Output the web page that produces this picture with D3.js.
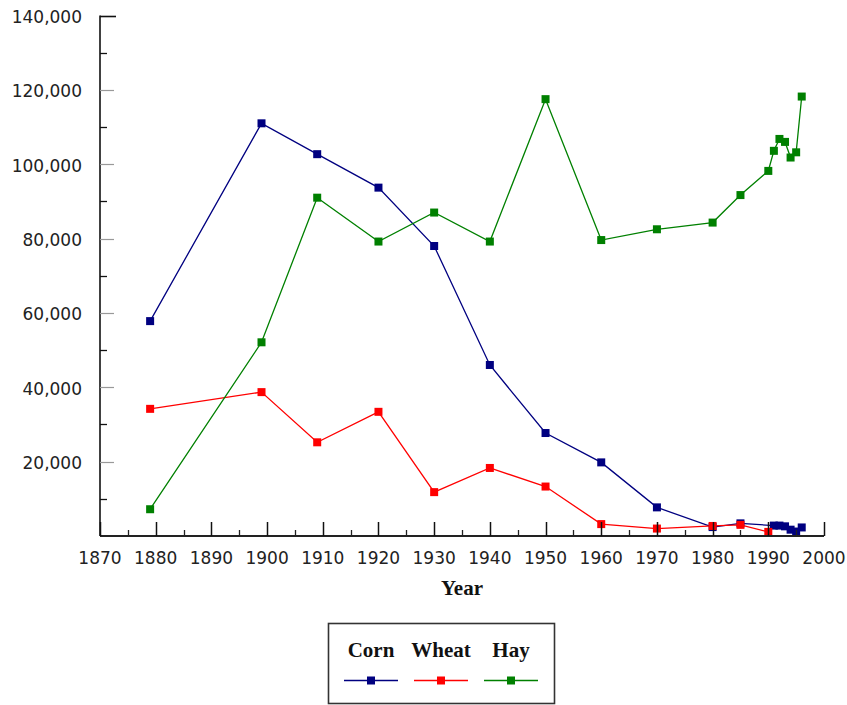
<!DOCTYPE html>
<html><head><meta charset="utf-8">
<script src="https://cdn.jsdelivr.net/npm/d3@7/dist/d3.min.js"></script>
<style>body{margin:0;background:#fff}</style>
</head><body>
<svg id="c" width="847" height="705"></svg>
<script>
const cornYears = [1879,1899,1909,1920,1930,1940,1950,1960,1970,1980,1985,1991,1992,1993,1994,1995,1996];
const cornValues = [57800,111000,102700,93700,78000,46000,27700,19800,7700,2400,3400,2800,2800,2600,1700,1200,2300];
const wheatYears = [1879,1899,1909,1920,1930,1940,1950,1960,1970,1980,1985,1990];
const wheatValues = [34200,38700,25200,33400,11800,18300,13300,3200,2000,2700,3000,1100];
const hayYears = [1879,1899,1909,1920,1930,1940,1950,1960,1970,1980,1985,1990,1991,1992,1993,1994,1995,1996];
const hayValues = [7200,52100,91000,79200,87000,79200,117500,79600,82500,84300,91700,98200,103600,106800,106000,101800,103200,118200];
const seriesNames = ["Corn","Wheat","Hay"];
const seriesColors = ["#000080","#ff0000","#008000"];
const xTickValues = [1870,1880,1890,1900,1910,1920,1930,1940,1950,1960,1970,1980,1990,2000];
const yTickValues = [20000,40000,60000,80000,100000,120000,140000];
const xTitle = "Year";

const series = [
  {name: seriesNames[0], color: seriesColors[0], pts: cornYears.map((y,i)=>[y,cornValues[i]])},
  {name: seriesNames[1], color: seriesColors[1], pts: wheatYears.map((y,i)=>[y,wheatValues[i]])},
  {name: seriesNames[2], color: seriesColors[2], pts: hayYears.map((y,i)=>[y,hayValues[i]])}
];

const svg = d3.select("#c");
const x = d3.scaleLinear().domain([1870,2000]).range([100,824]);
const y = d3.scaleLinear().domain([0,140000]).range([536,15.5]);
const tickFont = "'DejaVu Sans', sans-serif";
const titleFont = "'Liberation Serif', 'Times New Roman', serif";

// data
const line = d3.line().x(d=>x(d[0])).y(d=>y(d[1]));
series.forEach(s=>{
  const g = svg.append("g");
  g.append("path").attr("d", line(s.pts)).attr("fill","none")
    .attr("stroke", s.color).attr("stroke-width",1.3);
  g.selectAll("rect").data(s.pts).enter().append("rect")
    .attr("x", d=>x(d[0])-4).attr("y", d=>y(d[1])-4)
    .attr("width",8).attr("height",8).attr("fill", s.color);
});

// y axis
const yAxis = svg.append("g");
yAxis.append("line").attr("x1",100).attr("x2",100).attr("y1",y(140000)).attr("y2",y(0))
  .attr("stroke","#111").attr("stroke-width",1.6);
const yMinor = d3.range(10000,140000,20000);
yAxis.selectAll(".ymin").data(yMinor).enter().append("line")
  .attr("x1",100).attr("x2",107).attr("y1",d=>Math.round(y(d))+0.5).attr("y2",d=>Math.round(y(d))+0.5)
  .attr("stroke","#111").attr("stroke-width",1.3);
yAxis.selectAll(".ymaj").data(yTickValues).enter().append("line")
  .attr("x1",100).attr("x2",d=>d===140000?116:114).attr("y1",d=>Math.round(y(d))+0.5).attr("y2",d=>Math.round(y(d))+0.5)
  .attr("stroke",d=>d===140000?"#111":"#999").attr("stroke-width",d=>d===140000?1.6:1.2);
yAxis.selectAll(".ylab").data(yTickValues).enter().append("text")
  .attr("x",82).attr("y",d=>y(d)+7.5).attr("text-anchor","end")
  .attr("font-family",tickFont).attr("font-size",17).attr("fill","#222")
  .text(d=>d3.format(",")(d));

// x axis
const xAxis = svg.append("g");
xAxis.append("line").attr("x1",100).attr("x2",x(2000)).attr("y1",536).attr("y2",536)
  .attr("stroke","#222").attr("stroke-width",1.8);
const xMinor = d3.range(1875,2000,10);
xAxis.selectAll(".xmin").data(xMinor).enter().append("line")
  .attr("x1",d=>Math.round(x(d))+0.5).attr("x2",d=>Math.round(x(d))+0.5).attr("y1",536).attr("y2",530)
  .attr("stroke","#222").attr("stroke-width",1.3);
xAxis.selectAll(".xmaj").data(xTickValues).enter().append("line")
  .attr("x1",d=>Math.round(x(d))+0.5).attr("x2",d=>Math.round(x(d))+0.5).attr("y1",536).attr("y2",522)
  .attr("stroke","#111").attr("stroke-width",1.5);
xAxis.selectAll(".xlab").data(xTickValues).enter().append("text")
  .attr("x",d=>x(d)).attr("y",564).attr("text-anchor","middle")
  .attr("font-family",tickFont).attr("font-size",17).attr("fill","#222")
  .text(d=>d);
svg.append("text").attr("x",(x(1870)+x(2000))/2).attr("y",595).attr("text-anchor","middle")
  .attr("font-family",titleFont).attr("font-weight","bold").attr("font-size",21).attr("fill","#111")
  .text(xTitle);

// legend
const lg = svg.append("g");
lg.append("rect").attr("x",328.5).attr("y",623.5).attr("width",226).attr("height",80)
  .attr("fill","#fff").attr("stroke","#333").attr("stroke-width",1.6);
const legX = d3.scalePoint().domain(seriesNames).range([371,511]);
series.forEach(s=>{
  const cx = legX(s.name);
  lg.append("text").attr("x",cx).attr("y",656.5).attr("text-anchor","middle")
    .attr("font-family",titleFont).attr("font-weight","bold").attr("font-size",21).attr("fill","#111")
    .text(s.name);
  lg.append("line").attr("x1",cx-27).attr("x2",cx+27).attr("y1",680.5).attr("y2",680.5)
    .attr("stroke",s.color).attr("stroke-width",1.3);
  lg.append("rect").attr("x",cx-4).attr("y",676.5).attr("width",8).attr("height",8).attr("fill",s.color);
});
</script>
</body></html>
